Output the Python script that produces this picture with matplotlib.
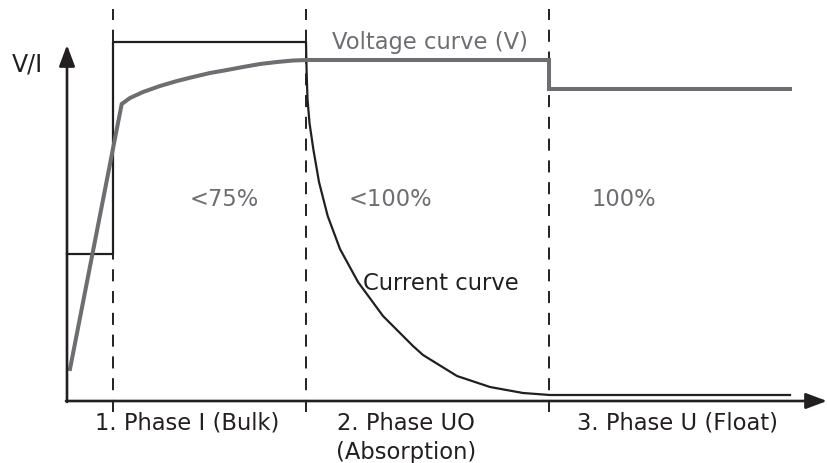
import numpy as np
import matplotlib
matplotlib.use('Agg')
import matplotlib.pyplot as plt

# Zeit (willkuerliche Einheiten) und Pegel
phase_bounds = [46, 239, 482]

# Stromkurve (schwarz)
current_t = [0, 46, 46, 239, 239.6, 240.5, 242.5, 246.3, 252, 260.7, 273, 291,
             316, 346, 356, 390, 423, 456, 483, 723]
current_y = [147, 147, 359, 359, 330, 302, 278, 252, 219, 185, 152, 119,
             85, 55, 46, 25, 14, 8, 6, 6]

# Spannungskurve (grau)
voltage_t = [3, 54.7, 63, 76, 93, 110, 126, 143, 160, 176, 193, 210, 226, 240,
             482, 482, 723]
voltage_y = [32, 297, 303, 309, 315, 320, 324, 328, 331, 334, 337, 339, 340.5, 341,
             341, 312, 312]

pct_labels = ['<75%', '<100%', '100%']
pct_x = [123, 282, 525]
phase_labels = ['1. Phase I (Bulk)', '2. Phase UO\n(Absorption)', '3. Phase U (Float)']
phase_x = [120, 339, 611]

black = '#231f20'
grey = '#6d6e71'

fig = plt.figure(figsize=(8.28, 4.64), dpi=100)
ax = fig.add_axes([0, 0, 1, 1])
ax.set_xlim(-67, 761)
ax.set_ylim(-62, 402)
ax.axis('off')

# Achsen mit Pfeilen
arrow = dict(arrowstyle='-|>,head_length=0.4,head_width=0.15', lw=1.9,
             color=black, mutation_scale=32, shrinkA=0, shrinkB=0)
ax.annotate('', xy=(0, 356), xytext=(0, -1), arrowprops=arrow, annotation_clip=False)
ax.annotate('', xy=(760, 0), xytext=(-1, 0), arrowprops=arrow, annotation_clip=False)

# gestrichelte Phasengrenzen
for b in phase_bounds:
    ax.plot([b, b], [-11, 392], color=black, lw=1.4, dashes=[6.2, 5.0])

ax.plot(current_t, current_y, color=black, lw=1.6, solid_joinstyle='round')
ax.plot(voltage_t, voltage_y, color=grey, lw=2.9, solid_joinstyle='miter')

fs = 16.3
ax.text(-40, 338, 'V/I', fontsize=17, color=black, ha='center', va='center')
ax.text(363, 360, 'Voltage curve (V)', fontsize=fs, color=grey, ha='center', va='center')
ax.text(296, 119, 'Current curve', fontsize=fs, color=black, ha='left', va='center')
for x, lab in zip(pct_x, pct_labels):
    ax.text(x, 203, lab, fontsize=fs, color=grey, ha='left', va='center')
for x, lab in zip(phase_x, phase_labels):
    ax.text(x, -10, lab, fontsize=fs, color=black, ha='center', va='top', linespacing=1.32)

fig.savefig('out.png', dpi=100)
